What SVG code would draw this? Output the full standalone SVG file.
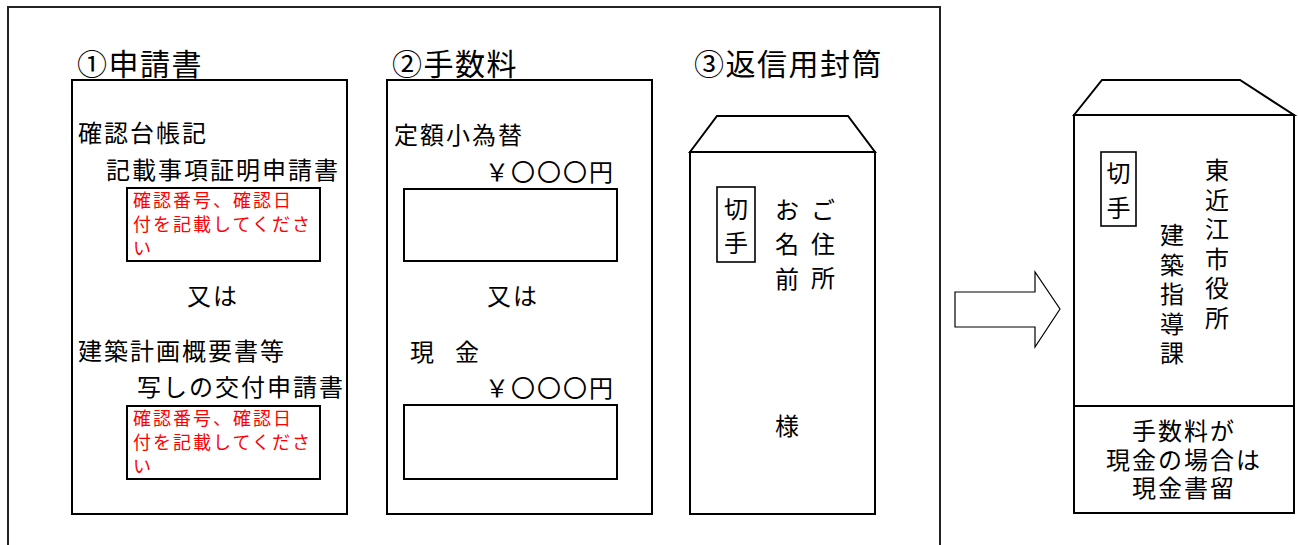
<svg xmlns="http://www.w3.org/2000/svg" width="1298" height="545" viewBox="0 0 1298 545">
<style>
text{font-family:"Noto Sans CJK JP","Noto Sans CJK SC",sans-serif;fill:#000}
.t{font-size:24px;letter-spacing:2px}
.h{font-size:30px;letter-spacing:1.5px}
.r{font-size:18px;letter-spacing:2px;fill:#ff0000}
.v{font-size:24px;text-anchor:middle}
.c{font-size:24px;text-anchor:middle}
.box{fill:#fff;stroke:#000;stroke-width:2}
.thin{fill:none;stroke:#000;stroke-width:1.6}
</style>
<rect width="1298" height="545" fill="#fff"/>
<rect id="frame" x="8" y="7" width="932" height="560" fill="none" stroke="#222" stroke-width="2"/>

<g id="form1">
<text class="h" x="77" y="75">①申請書</text>
<rect class="box" x="72" y="80" width="275" height="434"/>
<text class="t" x="78" y="142">確認台帳記</text>
<text class="t" x="106" y="179">記載事項証明申請書</text>
<rect class="box" x="127" y="188" width="193" height="73"/>
<text class="r" x="133" y="207">確認番号、確認日</text>
<text class="r" x="133" y="231">付を記載してくださ</text>
<text class="r" x="133" y="255">い</text>
<text class="t" x="187" y="305">又は</text>
<text class="t" x="78" y="360">建築計画概要書等</text>
<text class="t" x="137" y="396">写しの交付申請書</text>
<rect class="box" x="127" y="406" width="193" height="73"/>
<text class="r" x="133" y="425">確認番号、確認日</text>
<text class="r" x="133" y="449">付を記載してくださ</text>
<text class="r" x="133" y="473">い</text>
</g>

<g id="form2">
<text class="h" x="392" y="75">②手数料</text>
<rect class="box" x="387" y="80" width="265" height="434"/>
<text class="t" x="394" y="144">定額小為替</text>
<text class="t" x="485" y="181">￥〇〇〇円</text>
<rect class="box" x="404" y="189" width="213" height="72"/>
<text class="t" x="487" y="305">又は</text>
<text class="t" x="410" y="361">現<tspan x="455">金</tspan></text>
<text class="t" x="485" y="397">￥〇〇〇円</text>
<rect class="box" x="404" y="405" width="213" height="74"/>
</g>

<g id="envelope1">
<text class="h" x="694" y="75">③返信用封筒</text>
<polygon class="box" points="690,152 717,116 848,116 875,152"/>
<rect class="box" x="690" y="152" width="185" height="362"/>
<rect class="thin" x="717" y="187" width="38" height="75"/>
<text class="v" x="736" y="218">切</text>
<text class="v" x="736" y="252">手</text>
<text class="v" x="787" y="219">お</text>
<text class="v" x="787" y="253">名</text>
<text class="v" x="787" y="288">前</text>
<text class="v" x="823" y="219">ご</text>
<text class="v" x="823" y="253">住</text>
<text class="v" x="823" y="287">所</text>
<text class="v" x="787" y="435">様</text>
</g>

<g id="connectors">
<polygon points="955,292 1035,292 1035,272 1060,309 1035,347 1035,327 955,327" fill="#fff" stroke="#000" stroke-width="1.2"/>
</g>

<g id="envelope2">
<polygon class="box" points="1074,115 1102,80 1240,80 1294,115"/>
<rect class="box" x="1074" y="115" width="220" height="398"/>
<line x1="1074" y1="406" x2="1294" y2="406" stroke="#000" stroke-width="2"/>
<rect class="thin" x="1101" y="152" width="35" height="74"/>
<text class="v" x="1118.5" y="182">切</text>
<text class="v" x="1118.5" y="217">手</text>
<text class="v" x="1217" y="179">東</text>
<text class="v" x="1217" y="208.5">近</text>
<text class="v" x="1217" y="238">江</text>
<text class="v" x="1217" y="267.5">市</text>
<text class="v" x="1217" y="297">役</text>
<text class="v" x="1217" y="326.5">所</text>
<text class="v" x="1172" y="244">建</text>
<text class="v" x="1172" y="273.5">築</text>
<text class="v" x="1172" y="303">指</text>
<text class="v" x="1172" y="332.5">導</text>
<text class="v" x="1172" y="362">課</text>
<text class="c" x="1184" y="440" letter-spacing="2">手数料が</text>
<text class="c" x="1184" y="469" letter-spacing="2">現金の場合は</text>
<text class="c" x="1184" y="497" letter-spacing="2">現金書留</text>
</g>
</svg>
